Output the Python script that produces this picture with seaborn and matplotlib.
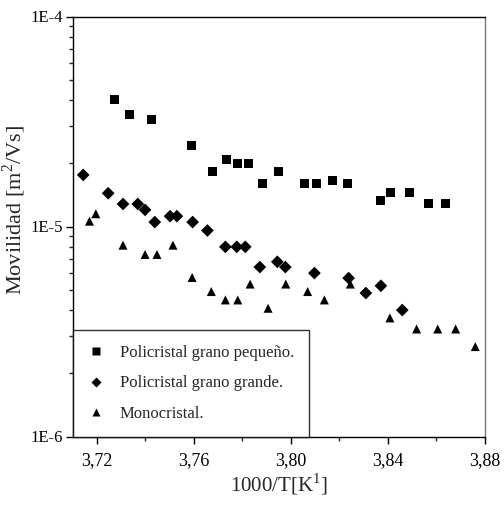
import matplotlib
matplotlib.use('Agg')
import matplotlib.pyplot as plt
import matplotlib.ticker as mticker
import seaborn as sns
import pandas as pd
import numpy as np

# Data
small_x = [3.7271, 3.7333, 3.7427, 3.7591, 3.7676, 3.7734, 3.7781, 3.7826, 3.7881, 3.7948,
           3.8057, 3.8105, 3.8172, 3.8233, 3.8371, 3.8411, 3.8487, 3.8568, 3.8638]
small_y = [4.04e-5, 3.43e-5, 3.22e-5, 2.42e-5, 1.82e-5, 2.09e-5, 2.00e-5, 2.00e-5, 1.61e-5, 1.82e-5,
           1.61e-5, 1.61e-5, 1.66e-5, 1.61e-5, 1.33e-5, 1.45e-5, 1.45e-5, 1.29e-5, 1.29e-5]

large_x = [3.7144, 3.7247, 3.7308, 3.7369, 3.7399, 3.7439, 3.7502, 3.7530, 3.7595, 3.7656,
           3.7730, 3.7777, 3.7812, 3.7872, 3.7944, 3.7977, 3.8097, 3.8238, 3.8309, 3.8371, 3.8459]
large_y = [1.76e-5, 1.44e-5, 1.28e-5, 1.28e-5, 1.20e-5, 1.05e-5, 1.12e-5, 1.12e-5, 1.05e-5, 9.57e-6,
           8.00e-6, 8.00e-6, 8.00e-6, 6.41e-6, 6.79e-6, 6.41e-6, 6.00e-6, 5.68e-6, 4.82e-6, 5.22e-6, 4.00e-6]

mono_x = [3.7170, 3.7196, 3.7308, 3.7399, 3.7448, 3.7514, 3.7593, 3.7672, 3.7730, 3.7781, 3.7832,
          3.7906, 3.7979, 3.8069, 3.8138, 3.8245, 3.8408, 3.8518, 3.8605, 3.8679, 3.8760]
mono_y = [1.06e-5, 1.15e-5, 8.15e-6, 7.36e-6, 7.36e-6, 8.15e-6, 5.72e-6, 4.90e-6, 4.47e-6, 4.47e-6, 5.32e-6,
          4.08e-6, 5.32e-6, 4.90e-6, 4.47e-6, 5.32e-6, 3.67e-6, 3.25e-6, 3.25e-6, 3.25e-6, 2.68e-6]

labels = ['Policristal grano pequeño.', 'Policristal grano grande.', 'Monocristal.']

df = pd.concat([
    pd.DataFrame({'x': small_x, 'y': small_y, 'muestra': labels[0]}),
    pd.DataFrame({'x': large_x, 'y': large_y, 'muestra': labels[1]}),
    pd.DataFrame({'x': mono_x, 'y': mono_y, 'muestra': labels[2]}),
])

sns.set_style('white')
plt.rcParams['font.family'] = ['Liberation Serif', 'DejaVu Serif']
plt.rcParams['mathtext.fontset'] = 'custom'
plt.rcParams['mathtext.rm'] = 'Liberation Serif'

fig = plt.figure(figsize=(5.04, 5.08), dpi=100)
ax = fig.add_axes([73 / 504, 1 - 436.5 / 508, (485 - 73) / 504, (436.5 - 16.5) / 508])

sns.scatterplot(data=df, x='x', y='y', hue='muestra', style='muestra',
                palette=['black'] * 3, markers={labels[0]: 's', labels[1]: 'D', labels[2]: '^'},
                s=42, edgecolor='none', ax=ax)

ax.set_yscale('log')
ax.set_ylim(1e-6, 1e-4)
ax.set_xlim(3.7102, 3.88)
ax.xaxis.set_major_locator(mticker.MultipleLocator(0.04))
ax.xaxis.set_minor_locator(mticker.MultipleLocator(0.02))
ax.xaxis.set_major_formatter(mticker.FuncFormatter(lambda v, p: f'{v:.2f}'.replace('.', ',')))
ax.yaxis.set_major_formatter(mticker.FuncFormatter(lambda v, p: f'1E{int(round(np.log10(v)))}'))
ax.yaxis.set_minor_formatter(mticker.NullFormatter())

ax.tick_params(axis='both', which='major', direction='out', length=5, width=1, labelsize=13,
               colors='black', bottom=True, left=True, top=False, right=False)
ax.tick_params(axis='x', which='major', pad=6)
ax.tick_params(axis='y', which='major', pad=2, labelsize=12)
ax.tick_params(axis='both', which='minor', direction='out', length=3, width=1,
               bottom=True, left=True, top=False, right=False)

for side in ['left', 'bottom', 'top']:
    ax.spines[side].set_color('black')
    ax.spines[side].set_linewidth(1)
ax.spines['right'].set_color('#777777')
ax.spines['right'].set_linewidth(1)

ax.set_xlabel('1000/T[K$^{1}$]', fontsize=15, labelpad=2)
ax.set_ylabel('Movilidad [m$^{2}$/Vs]', fontsize=16)
ax.yaxis.set_label_coords(-0.11, 0.54)

leg = ax.legend(loc='lower left', borderaxespad=0, fontsize=12, frameon=True, fancybox=False,
                edgecolor='black', handlelength=1.0, handletextpad=0.9, borderpad=0.9,
                labelspacing=0.85, markerscale=0.8)
leg.get_frame().set_linewidth(1)

fig.savefig('out.png', dpi=100)
